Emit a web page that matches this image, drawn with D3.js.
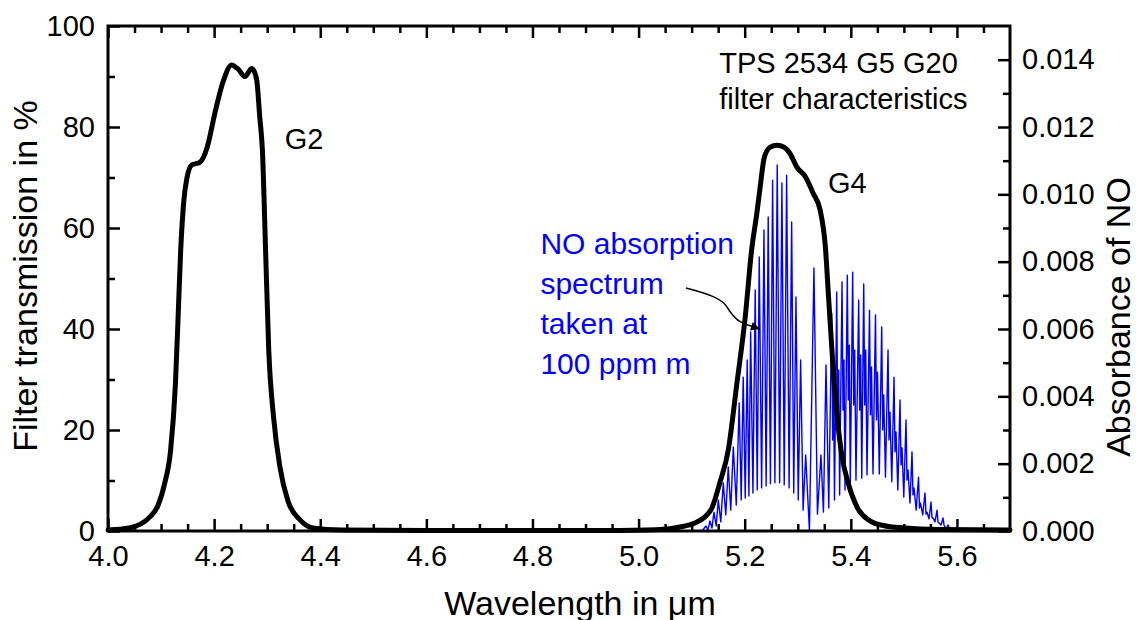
<!DOCTYPE html>
<html>
<head>
<meta charset="utf-8">
<script src="https://cdn.jsdelivr.net/npm/d3@7"></script>
<style>
  body { margin: 0; background: #fff; }
  text { font-family: "Liberation Sans", Arial, sans-serif; }
</style>
</head>
<body>
<div id="main"></div>
<script>
var ctx = {
    w: 1136,
    h: 620,
    left: 108, right: 1010, top: 26, bottom: 531,
    FONT: 29,
    TITLE_FONT: 34
};

// tick labels
var xTicks = [4.0, 4.2, 4.4, 4.6, 4.8, 5.0, 5.2, 5.4, 5.6];
var leftTicks = [0, 20, 40, 60, 80, 100];
var rightTicks = [0, 0.002, 0.004, 0.006, 0.008, 0.010, 0.012, 0.014];

// filter G2 transmission (%) vs wavelength (um)
var g2Wave = [4.000, 4.040, 4.079, 4.094, 4.107, 4.118, 4.127, 4.132, 4.137, 4.143, 4.149, 4.158,
    4.173, 4.187, 4.202, 4.217, 4.233, 4.245, 4.258, 4.271, 4.280, 4.286, 4.291, 4.297, 4.303,
    4.312, 4.324, 4.339, 4.362, 4.386, 4.440, 4.600, 4.800, 4.950];
var g2Trans = [0.2, 0.6, 2.8, 5.0, 9.5, 16, 29, 42, 55.6, 65.5, 70, 72.5,
    73, 76, 83, 89, 92.3, 91.5, 90, 91.6, 89.5, 82, 75.4, 55.6, 35.8,
    22.6, 12.7, 6, 2.2, 0.6, 0.2, 0.1, 0.1, 0.1];

// filter G4 transmission (%)
var g4Wave = [4.950, 5.040, 5.078, 5.106, 5.125, 5.138, 5.153, 5.169, 5.185, 5.201, 5.213, 5.223,
    5.229, 5.237, 5.248, 5.261, 5.274, 5.285, 5.298, 5.314, 5.329, 5.342, 5.352, 5.358, 5.364,
    5.373, 5.383, 5.395, 5.413, 5.436, 5.461, 5.502, 5.568, 5.700];
var g4Trans = [0.1, 0.3, 0.8, 1.6, 2.8, 4.5, 9.5, 16, 29, 42.4, 55.6, 63,
    68, 74, 76, 76.4, 76, 74.8, 72.1, 70.2, 66.9, 63.6, 56.3, 46.4, 36.5,
    24, 15, 9.5, 4.5, 2, 1.1, 0.6, 0.3, 0.2];

// NO absorbance spectrum, [wavelength um, absorbance]
var noSpectrum = [
    [5.1195, 0], [5.1270, 0.00015], [5.1308, 0.00003], [5.1345, 0.00030], [5.1383, 0.00009],
    [5.1421, 0.00056], [5.1462, 0.00015], [5.1502, 0.00092], [5.1549, 0.00027], [5.1596, 0.00143],
    [5.1643, 0.00048], [5.1690, 0.00190], [5.1737, 0.00062], [5.1785, 0.00250], [5.1841, 0.00077],
    [5.1896, 0.00380], [5.1934, 0.00092], [5.1972, 0.00457], [5.2010, 0.00098], [5.2047, 0.00508],
    [5.2079, 0.00104], [5.2112, 0.00591], [5.2155, 0.00113], [5.2198, 0.00716], [5.2236, 0.00122],
    [5.2274, 0.00814], [5.2319, 0.00128], [5.2363, 0.00894], [5.2404, 0.00134], [5.2443, 0.00933],
    [5.2485, 0.00140], [5.2526, 0.01042], [5.2569, 0.00143], [5.2613, 0.01087], [5.2658, 0.00143],
    [5.2701, 0.01034], [5.2745, 0.00137], [5.2790, 0.01057], [5.2837, 0.00128], [5.2885, 0.00918],
    [5.2924, 0.00113], [5.2966, 0.00695], [5.3009, 0.00092], [5.3054, 0.00508], [5.3101, 0.00062],
    [5.3149, 0.00226], [5.3220, 0], [5.3305, 0.00781], [5.3371, 0.00050], [5.3437, 0.00226],
    [5.3484, 0.00056], [5.3532, 0.00493], [5.3584, 0.00068],
    [5.3640, 0.00647], [5.3658, 0.00270], [5.3677, 0.00389], [5.3692, 0.00092],
    [5.3734, 0.00710], [5.3753, 0.00330], [5.3772, 0.00478], [5.3789, 0.00107],
    [5.3834, 0.00740], [5.3853, 0.00359], [5.3871, 0.00508], [5.3890, 0.00122],
    [5.3934, 0.00760], [5.3953, 0.00389], [5.3971, 0.00552], [5.3990, 0.00137],
    [5.4035, 0.00769], [5.4054, 0.00374], [5.4073, 0.00538], [5.4097, 0.00151],
    [5.4148, 0.00686], [5.4167, 0.00359], [5.4186, 0.00523], [5.4206, 0.00157],
    [5.4243, 0.00734], [5.4262, 0.00374], [5.4281, 0.00538], [5.4305, 0.00166],
    [5.4352, 0.00656], [5.4371, 0.00345], [5.4390, 0.00487], [5.4418, 0.00169],
    [5.4465, 0.00642], [5.4484, 0.00330], [5.4503, 0.00472], [5.4537, 0.00169],
    [5.4582, 0.00606], [5.4601, 0.00300], [5.4620, 0.00404], [5.4653, 0.00160],
    [5.4701, 0.00538], [5.4720, 0.00270], [5.4738, 0.00353], [5.4772, 0.00146],
    [5.4814, 0.00457], [5.4833, 0.00235], [5.4852, 0.00294], [5.4886, 0.00122],
    [5.4927, 0.00389], [5.4946, 0.00196], [5.4965, 0.00247], [5.4998, 0.00101],
    [5.5040, 0.00330], [5.5059, 0.00151], [5.5078, 0.00181], [5.5115, 0.00083],
    [5.5153, 0.00235], [5.5172, 0.00107], [5.5191, 0.00128], [5.5232, 0.00062],
    [5.5276, 0.00160], [5.5294, 0.00068], [5.5313, 0.00083], [5.5355, 0.00048],
    [5.5398, 0.00113], [5.5417, 0.00050], [5.5436, 0.00056], [5.5473, 0.00036],
    [5.5511, 0.00086], [5.5530, 0.00039], [5.5549, 0.00039], [5.5586, 0.00027],
    [5.5624, 0.00062], [5.5643, 0.00027], [5.5662, 0.00024], [5.5700, 0.00018],
    [5.5737, 0.00039], [5.5756, 0.00018], [5.5775, 0.00012], [5.5803, 0.00009],
    [5.5831, 0.00018], [5.5888, 0]
];

// annotation arrow path, [wavelength, % transmission]
var arrowPts = [[5.0893, 48.1], [5.1383, 46.5], [5.1609, 45.1], [5.1741, 43.2],
    [5.1892, 41.6], [5.2062, 40.8], [5.2288, 40.0]];

var createViz = function(){
    var svg = d3.select("#main").append("svg")
        .attr("width", ctx.w).attr("height", ctx.h);

    var x = d3.scaleLinear().domain([4.0, 5.7]).range([ctx.left, ctx.right]);
    var yL = d3.scaleLinear().domain([0, 100]).range([ctx.bottom, ctx.top]);
    var yR = d3.scaleLinear().domain([0, 0.015]).range([ctx.bottom, ctx.top]);

    svg.append("defs").append("marker")
        .attr("id", "head")
        .attr("viewBox", "0 0 10 10")
        .attr("refX", 10).attr("refY", 5)
        .attr("markerUnits", "userSpaceOnUse")
        .attr("markerWidth", 16).attr("markerHeight", 9)
        .attr("orient", "auto")
        .append("path").attr("d", "M0,0 L10,5 L0,10 Z").attr("fill", "#000");

    var plotG = svg.append("g");

    // NO spectrum (blue)
    var noLine = d3.line()
        .x(function(d){ return x(d[0]); })
        .y(function(d){ return yR(d[1]); });
    plotG.append("path")
        .datum(noSpectrum)
        .attr("d", noLine)
        .attr("fill", "none")
        .attr("stroke", "#0000ff")
        .attr("stroke-width", 1.4)
        .attr("stroke-linejoin", "round");

    // filter curves
    var fLine = d3.line()
        .x(function(d){ return x(d[0]); })
        .y(function(d){ return yL(d[1]); })
        .curve(d3.curveMonotoneX);
    [[g2Wave, g2Trans], [g4Wave, g4Trans]].forEach(function(s){
        plotG.append("path")
            .datum(d3.zip(s[0], s[1]))
            .attr("d", fLine)
            .attr("fill", "none")
            .attr("stroke", "#000")
            .attr("stroke-width", 5)
            .attr("stroke-linecap", "round")
            .attr("stroke-linejoin", "round");
    });

    // axes
    var styleAxis = function(g){
        g.select(".domain").remove();
        g.selectAll(".tick line").attr("stroke", "#000").attr("stroke-width", 2.5);
        g.selectAll("text").attr("fill", "#000")
            .style("font-size", ctx.FONT + "px")
            .style("font-family", "'Liberation Sans', Arial, sans-serif");
    };
    var xMinor = d3.range(4.05, 5.69, 0.05).filter(function(v){
        return Math.abs(v * 5 - Math.round(v * 5)) > 0.01; });

    svg.append("g").attr("transform", "translate(0," + ctx.bottom + ")")
        .call(d3.axisBottom(x).tickValues(xTicks).tickSize(-12).tickPadding(14)
            .tickFormat(d3.format(".1f")))
        .call(styleAxis);
    svg.append("g").attr("transform", "translate(0," + ctx.bottom + ")")
        .call(d3.axisBottom(x).tickValues(xMinor).tickSize(-7).tickFormat(""))
        .call(styleAxis);
    svg.append("g").attr("transform", "translate(0," + ctx.top + ")")
        .call(d3.axisTop(x).tickValues(xTicks).tickSize(-12).tickFormat(""))
        .call(styleAxis);
    svg.append("g").attr("transform", "translate(0," + ctx.top + ")")
        .call(d3.axisTop(x).tickValues(xMinor).tickSize(-7).tickFormat(""))
        .call(styleAxis);

    svg.append("g").attr("transform", "translate(" + ctx.left + ",0)")
        .call(d3.axisLeft(yL).tickValues(leftTicks).tickSize(-12).tickPadding(13)
            .tickFormat(d3.format("d")))
        .call(styleAxis);
    svg.append("g").attr("transform", "translate(" + ctx.left + ",0)")
        .call(d3.axisLeft(yL).tickValues([10, 30, 50, 70, 90]).tickSize(-7).tickFormat(""))
        .call(styleAxis);

    svg.append("g").attr("transform", "translate(" + ctx.right + ",0)")
        .call(d3.axisRight(yR).tickValues(rightTicks).tickSize(-12).tickPadding(12)
            .tickFormat(d3.format(".3f")))
        .call(styleAxis);
    svg.append("g").attr("transform", "translate(" + ctx.right + ",0)")
        .call(d3.axisRight(yR).tickValues([0.001, 0.003, 0.005, 0.007, 0.009, 0.011, 0.013])
            .tickSize(-7).tickFormat(""))
        .call(styleAxis);

    // frame
    svg.append("rect")
        .attr("x", ctx.left).attr("y", ctx.top)
        .attr("width", ctx.right - ctx.left).attr("height", ctx.bottom - ctx.top)
        .attr("fill", "none").attr("stroke", "#000").attr("stroke-width", 3);

    // axis titles
    svg.append("text")
        .attr("x", 580).attr("y", 615)
        .style("text-anchor", "middle").style("font-size", ctx.TITLE_FONT + "px")
        .text("Wavelength in \u03bcm");
    svg.append("text")
        .attr("transform", "translate(37,276) rotate(-90)")
        .style("text-anchor", "middle").style("font-size", ctx.TITLE_FONT + "px")
        .text("Filter transmission in %");
    svg.append("text")
        .attr("transform", "translate(1130,317) rotate(-90)")
        .style("text-anchor", "middle").style("font-size", ctx.TITLE_FONT + "px")
        .text("Absorbance of NO");

    // labels
    var label = function(wv, pct, txt, color, size){
        svg.append("text")
            .attr("x", x(wv)).attr("y", yL(pct))
            .attr("fill", color || "#000")
            .style("font-size", (size || ctx.FONT) + "px")
            .text(txt);
    };
    label(4.333, 75.6, "G2");
    label(5.357, 66.9, "G4");
    label(5.152, 90.6, "TPS 2534 G5 G20");
    label(5.152, 83.6, "filter characteristics");
    label(4.815, 54.9, "NO absorption", "#0000ff", 30);
    label(4.815, 47.0, "spectrum", "#0000ff", 30);
    label(4.815, 39.0, "taken at", "#0000ff", 30);
    label(4.815, 31.1, "100 ppm m", "#0000ff", 30);

    // arrow to spectrum
    svg.append("path")
        .datum(arrowPts)
        .attr("d", d3.line()
            .x(function(d){ return x(d[0]); })
            .y(function(d){ return yL(d[1]); })
            .curve(d3.curveCatmullRom))
        .attr("fill", "none")
        .attr("stroke", "#000")
        .attr("stroke-width", 1.5)
        .attr("marker-end", "url(#head)");
};

createViz();
</script>
</body>
</html>
